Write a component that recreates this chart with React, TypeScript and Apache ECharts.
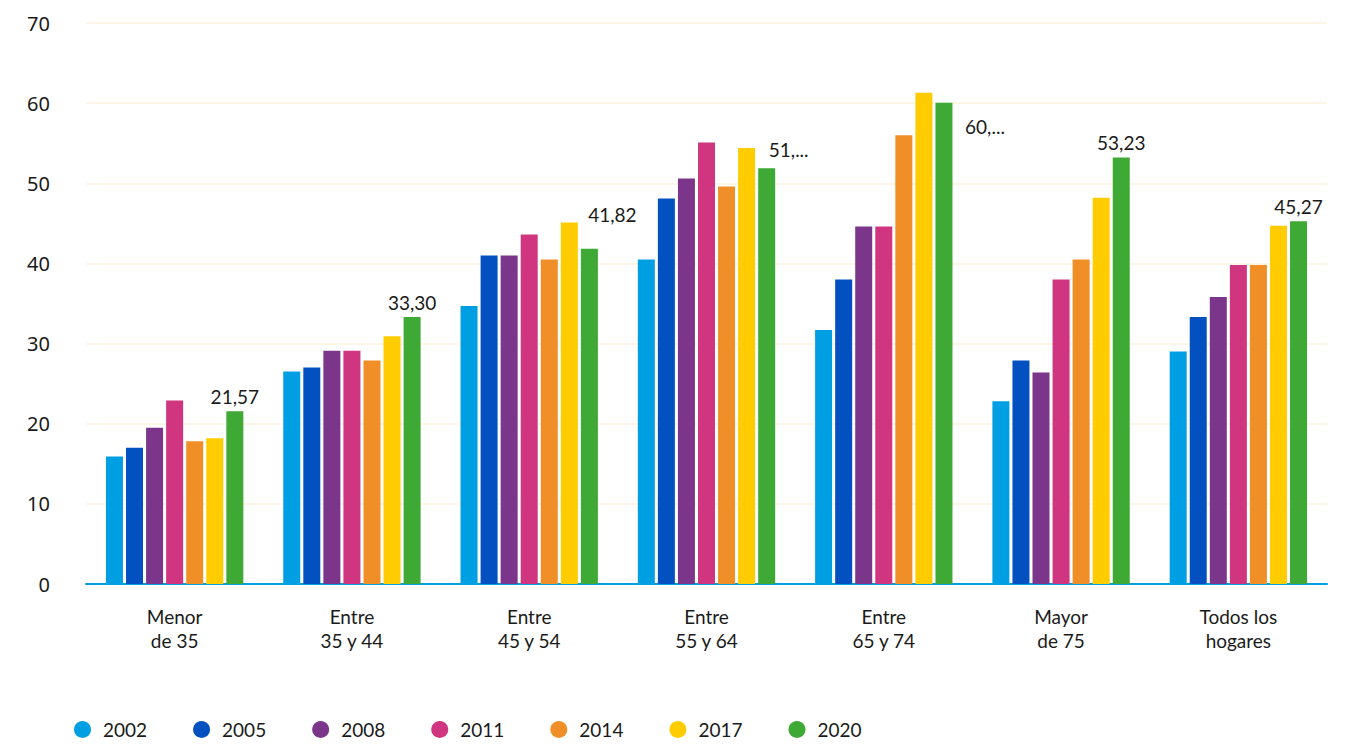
import React, { useEffect, useRef } from "react";
import * as echarts from "echarts";

// Age brackets of the household head
const categories = [
  "Menor\nde 35",
  "Entre\n35 y 44",
  "Entre\n45 y 54",
  "Entre\n55 y 64",
  "Entre\n65 y 74",
  "Mayor\nde 75",
  "Todos los\nhogares",
];

const years = ["2002", "2005", "2008", "2011", "2014", "2017", "2020"];

const v2002 = [15.9, 26.5, 34.7, 40.5, 31.7, 22.8, 29.0];
const v2005 = [17.0, 27.0, 41.0, 48.1, 38.0, 27.9, 33.3];
const v2008 = [19.5, 29.1, 41.0, 50.6, 44.6, 26.4, 35.8];
const v2011 = [22.9, 29.1, 43.6, 55.1, 44.6, 38.0, 39.8];
const v2014 = [17.8, 27.9, 40.5, 49.6, 56.0, 40.5, 39.8];
const v2017 = [18.2, 30.9, 45.1, 54.4, 61.3, 48.2, 44.7];
const v2020 = [21.57, 33.3, 41.82, 51.88, 60.04, 53.23, 45.27];

const yTicks = [0, 10, 20, 30, 40, 50, 60, 70];

const seriesValues = [v2002, v2005, v2008, v2011, v2014, v2017, v2020];
const colors = ["#009FE3", "#0351C1", "#7B368C", "#D0357F", "#F08F28", "#FECC00", "#3FA935"];

// Labels of the last series: shifted ones sit beside taller neighbours, some are cut short
const labelShift: Record<number, [number, number]> = {
  2: [23, -20],
  3: [22, -4],
  4: [41, 38],
};
const clippedLabels = new Set([3, 4]);

const fmt = (v: number) => v.toFixed(2).replace(".", ",");

const textColor = "#1a1a1a";

export default function App() {
  const ref = useRef<HTMLDivElement>(null);

  useEffect(() => {
    document.body.style.margin = "0";
    if (!ref.current) return;
    const chart = echarts.init(ref.current, undefined, { renderer: "svg" });

    const series = seriesValues.map((vals, si) => {
      const isLast = si === seriesValues.length - 1;
      return {
        name: years[si],
        type: "bar" as const,
        barWidth: 17,
        barGap: "18%",
        itemStyle: { color: colors[si] },
        data: vals.map((v, i) => {
          if (!isLast) return v;
          const text = clippedLabels.has(i) ? fmt(v).split(",")[0] + ",..." : fmt(v);
          return {
            value: v,
            label: {
              show: true,
              position: "top",
              distance: 5,
              offset: labelShift[i] || [0, 0],
              formatter: text,
              fontFamily: "Lato",
              fontSize: 19,
              color: textColor,
            },
          };
        }),
      };
    });

    chart.setOption({
      animation: false,
      backgroundColor: "#ffffff",
      grid: { left: 86, right: 24, top: 23, bottom: 160, containLabel: false },
      xAxis: {
        type: "category",
        data: categories,
        axisLine: { show: true, lineStyle: { color: "#009FE3", width: 2 } },
        axisTick: { show: false },
        axisLabel: {
          margin: 20,
          fontFamily: "Lato",
          fontSize: 19,
          lineHeight: 24,
          color: textColor,
          interval: 0,
        },
      },
      yAxis: {
        type: "value",
        min: yTicks[0],
        max: yTicks[yTicks.length - 1],
        interval: yTicks[1] - yTicks[0],
        axisLine: { show: false },
        axisTick: { show: false },
        splitLine: { show: true, lineStyle: { color: "#FDF3DF", width: 1.5 } },
        axisLabel: {
          margin: 36,
          fontFamily: "Noto Sans",
          fontSize: 20,
          color: textColor,
        },
      },
      legend: {
        data: years,
        left: 69,
        top: 715,
        icon: "circle",
        itemWidth: 17,
        itemHeight: 17,
        itemGap: 46,
        textStyle: {
          fontFamily: "Lato",
          fontSize: 19,
          color: textColor,
          width: 52,
          padding: [0, 0, 0, 7],
        },
      },
      series,
    });

    return () => chart.dispose();
  }, []);

  return <div ref={ref} style={{ width: 1351, height: 744 }} />;
}
